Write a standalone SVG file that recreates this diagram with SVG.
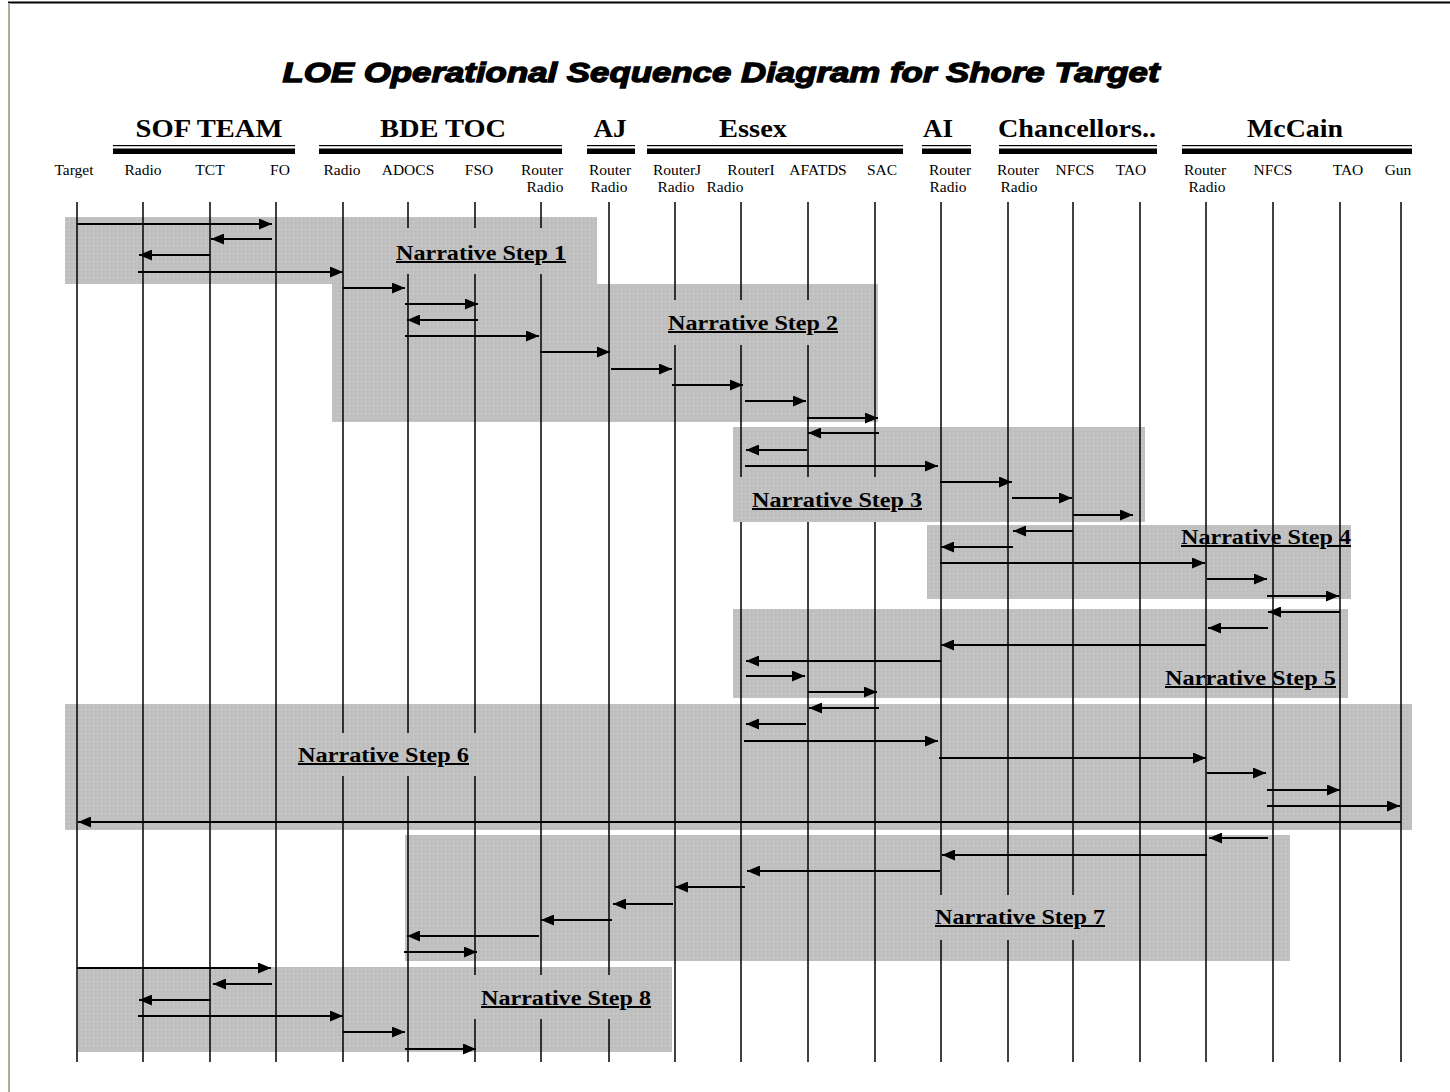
<svg xmlns="http://www.w3.org/2000/svg" width="1450" height="1092" viewBox="0 0 1450 1092">
<style>
.title{font-family:"Liberation Sans",Arial,sans-serif;font-weight:bold;font-style:italic;font-size:28px;fill:#000;stroke:#000;stroke-width:1.3px}
.grp{font-family:"Liberation Serif","Times New Roman",serif;font-weight:bold;font-size:25px;fill:#000;text-anchor:middle}
.col{font-family:"Liberation Serif","Times New Roman",serif;font-size:15.5px;fill:#000;text-anchor:middle}
.step{font-family:"Liberation Serif","Times New Roman",serif;font-weight:bold;font-size:20px;fill:#000;text-decoration:underline}
.life{stroke:#000;stroke-width:1.5}
.box{fill:url(#stip)}
.lbg{fill:url(#stip)}
.msg{stroke:#000;stroke-width:1.8;fill:none;marker-end:url(#ah)}
</style>
<defs>
<pattern id="stip" width="4" height="4" patternUnits="userSpaceOnUse">
<rect width="4" height="4" fill="#c0c0c0"/>
<rect x="1" y="1" width="1" height="1" fill="#cdcdcd"/>
<rect x="3" y="3" width="1" height="1" fill="#b9b9b9"/>
</pattern>
<marker id="ah" markerUnits="userSpaceOnUse" markerWidth="13" markerHeight="11" refX="13" refY="5.5" orient="auto">
<path d="M0,0 L13,5.5 L0,11 z" fill="#000"/>
</marker>
</defs>
<rect width="1450" height="1092" fill="#fff"/>
<!-- frame -->
<line x1="8" y1="2.5" x2="1450" y2="2.5" stroke="#000" stroke-width="2"/>
<line x1="9" y1="3" x2="9" y2="1092" stroke="#b3ab97" stroke-width="2"/>
<text class="title" x="721" y="82" textLength="877" lengthAdjust="spacingAndGlyphs" text-anchor="middle">LOE Operational Sequence Diagram for Shore Target</text>
<!-- step boxes -->
<g id="boxes">
<rect class="box" x="65" y="217" width="532" height="67"/>
<rect class="box" x="332" y="284" width="546" height="138"/>
<rect class="box" x="733" y="427" width="412" height="95"/>
<rect class="box" x="927" y="525" width="424" height="74"/>
<rect class="box" x="733" y="609" width="615" height="89"/>
<rect class="box" x="65" y="704" width="1347" height="126"/>
<rect class="box" x="405" y="835" width="885" height="126"/>
<rect class="box" x="78" y="967" width="594" height="85"/>
</g>
<!-- group headers -->
<g id="grp-sof"><text class="grp" x="209" y="137" textLength="147" lengthAdjust="spacingAndGlyphs">SOF TEAM</text><rect x="113" y="145" width="182" height="1.2"/><rect x="113" y="148.5" width="182" height="5.5"/></g>
<g id="grp-bde"><text class="grp" x="443" y="137" textLength="126" lengthAdjust="spacingAndGlyphs">BDE TOC</text><rect x="319" y="145" width="243" height="1.2"/><rect x="319" y="148.5" width="243" height="5.5"/></g>
<g id="grp-aj"><text class="grp" x="610" y="137" textLength="33" lengthAdjust="spacingAndGlyphs">AJ</text><rect x="587" y="145" width="48" height="1.2"/><rect x="587" y="148.5" width="48" height="5.5"/></g>
<g id="grp-essex"><text class="grp" x="753" y="137" textLength="68" lengthAdjust="spacingAndGlyphs">Essex</text><rect x="647" y="145" width="256" height="1.2"/><rect x="647" y="148.5" width="256" height="5.5"/></g>
<g id="grp-ai"><text class="grp" x="938" y="137" textLength="30" lengthAdjust="spacingAndGlyphs">AI</text><rect x="922" y="145" width="49" height="1.2"/><rect x="922" y="148.5" width="49" height="5.5"/></g>
<g id="grp-chan"><text class="grp" x="1077" y="137" textLength="158" lengthAdjust="spacingAndGlyphs">Chancellors..</text><rect x="999" y="145" width="158" height="1.2"/><rect x="999" y="148.5" width="158" height="5.5"/></g>
<g id="grp-mccain"><text class="grp" x="1295" y="137" textLength="96" lengthAdjust="spacingAndGlyphs">McCain</text><rect x="1182" y="145" width="230" height="1.2"/><rect x="1182" y="148.5" width="230" height="5.5"/></g>
<!-- participants -->
<g id="n-target"><text class="col" x="74" y="175">Target</text><line class="life" x1="77" y1="202" x2="77" y2="1062"/></g>
<g id="n-sof-radio"><text class="col" x="143" y="175">Radio</text><line class="life" x1="143" y1="202" x2="143" y2="1062"/></g>
<g id="n-tct"><text class="col" x="210" y="175">TCT</text><line class="life" x1="210" y1="202" x2="210" y2="1062"/></g>
<g id="n-fo"><text class="col" x="280" y="175">FO</text><line class="life" x1="276" y1="202" x2="276" y2="1062"/></g>
<g id="n-bde-radio"><text class="col" x="342" y="175">Radio</text><line class="life" x1="343" y1="202" x2="343" y2="1062"/></g>
<g id="n-adocs"><text class="col" x="408" y="175">ADOCS</text><line class="life" x1="408" y1="202" x2="408" y2="1062"/></g>
<g id="n-fso"><text class="col" x="479" y="175">FSO</text><line class="life" x1="475" y1="202" x2="475" y2="1062"/></g>
<g id="n-bde-router"><text class="col" x="542" y="175">Router</text><text class="col" x="545" y="192">Radio</text><line class="life" x1="541" y1="202" x2="541" y2="1062"/></g>
<g id="n-aj-router"><text class="col" x="610" y="175">Router</text><text class="col" x="609" y="192">Radio</text><line class="life" x1="609" y1="202" x2="609" y2="1062"/></g>
<g id="n-routerj"><text class="col" x="677" y="175">RouterJ</text><text class="col" x="676" y="192">Radio</text><line class="life" x1="675" y1="202" x2="675" y2="1062"/></g>
<g id="n-routeri"><text class="col" x="751" y="175">RouterI</text><text class="col" x="725" y="192" text-anchor="start">Radio</text><line class="life" x1="741" y1="202" x2="741" y2="1062"/></g>
<g id="n-afatds"><text class="col" x="818" y="175">AFATDS</text><line class="life" x1="808" y1="202" x2="808" y2="1062"/></g>
<g id="n-sac"><text class="col" x="882" y="175">SAC</text><line class="life" x1="875" y1="202" x2="875" y2="1062"/></g>
<g id="n-ai-router"><text class="col" x="950" y="175">Router</text><text class="col" x="948" y="192">Radio</text><line class="life" x1="941" y1="202" x2="941" y2="1062"/></g>
<g id="n-ch-router"><text class="col" x="1018" y="175">Router</text><text class="col" x="1019" y="192">Radio</text><line class="life" x1="1008" y1="202" x2="1008" y2="1062"/></g>
<g id="n-ch-nfcs"><text class="col" x="1075" y="175">NFCS</text><line class="life" x1="1073" y1="202" x2="1073" y2="1062"/></g>
<g id="n-ch-tao"><text class="col" x="1131" y="175">TAO</text><line class="life" x1="1140" y1="202" x2="1140" y2="1062"/></g>
<g id="n-mc-router"><text class="col" x="1205" y="175">Router</text><text class="col" x="1207" y="192">Radio</text><line class="life" x1="1206" y1="202" x2="1206" y2="1062"/></g>
<g id="n-mc-nfcs"><text class="col" x="1273" y="175">NFCS</text><line class="life" x1="1273" y1="202" x2="1273" y2="1062"/></g>
<g id="n-mc-tao"><text class="col" x="1348" y="175">TAO</text><line class="life" x1="1340" y1="202" x2="1340" y2="1062"/></g>
<g id="n-gun"><text class="col" x="1398" y="175">Gun</text><line class="life" x1="1401" y1="202" x2="1401" y2="1062"/></g>
<!-- step labels -->
<g id="steps">
<rect class="lbg" x="388" y="228" width="187" height="46"/>
<text class="step" x="396" y="260" textLength="170" lengthAdjust="spacingAndGlyphs">Narrative Step 1</text>
<rect class="lbg" x="660" y="300" width="185" height="45"/>
<text class="step" x="668" y="330" textLength="170" lengthAdjust="spacingAndGlyphs">Narrative Step 2</text>
<rect class="lbg" x="735" y="477" width="197" height="45"/>
<text class="step" x="752" y="507" textLength="170" lengthAdjust="spacingAndGlyphs">Narrative Step 3</text>
<text class="step" x="1181" y="544" textLength="170" lengthAdjust="spacingAndGlyphs">Narrative Step 4</text>
<text class="step" x="1165" y="685" textLength="171" lengthAdjust="spacingAndGlyphs">Narrative Step 5</text>
<rect class="lbg" x="290" y="733" width="192" height="43"/>
<text class="step" x="298" y="762" textLength="171" lengthAdjust="spacingAndGlyphs">Narrative Step 6</text>
<rect class="lbg" x="928" y="895" width="188" height="45"/>
<text class="step" x="935" y="924" textLength="170" lengthAdjust="spacingAndGlyphs">Narrative Step 7</text>
<rect class="lbg" x="468" y="975" width="194" height="44"/>
<text class="step" x="481" y="1005" textLength="170" lengthAdjust="spacingAndGlyphs">Narrative Step 8</text>
</g>
<!-- connectors -->
<g id="connectors">
<line class="msg" x1="77" y1="224" x2="272" y2="224"/>
<line class="msg" x1="272" y1="239" x2="211" y2="239"/>
<line class="msg" x1="210" y1="255" x2="139" y2="255"/>
<line class="msg" x1="138" y1="272" x2="343" y2="272"/>
<line class="msg" x1="343" y1="288" x2="405" y2="288"/>
<line class="msg" x1="405" y1="304" x2="478" y2="304"/>
<line class="msg" x1="478" y1="320" x2="407" y2="320"/>
<line class="msg" x1="405" y1="336" x2="539" y2="336"/>
<line class="msg" x1="540" y1="352" x2="610" y2="352"/>
<line class="msg" x1="611" y1="369" x2="672" y2="369"/>
<line class="msg" x1="672" y1="385" x2="743" y2="385"/>
<line class="msg" x1="745" y1="401" x2="806" y2="401"/>
<line class="msg" x1="807" y1="418" x2="878" y2="418"/>
<line class="msg" x1="879" y1="433" x2="808" y2="433"/>
<line class="msg" x1="807" y1="450" x2="746" y2="450"/>
<line class="msg" x1="745" y1="466" x2="938" y2="466"/>
<line class="msg" x1="940" y1="482" x2="1012" y2="482"/>
<line class="msg" x1="1012" y1="498" x2="1072" y2="498"/>
<line class="msg" x1="1073" y1="515" x2="1133" y2="515"/>
<line class="msg" x1="1073" y1="531" x2="1013" y2="531"/>
<line class="msg" x1="1013" y1="547" x2="941" y2="547"/>
<line class="msg" x1="940" y1="563" x2="1205" y2="563"/>
<line class="msg" x1="1207" y1="579" x2="1267" y2="579"/>
<line class="msg" x1="1267" y1="596" x2="1339" y2="596"/>
<line class="msg" x1="1340" y1="612" x2="1268" y2="612"/>
<line class="msg" x1="1268" y1="628" x2="1208" y2="628"/>
<line class="msg" x1="1206" y1="645" x2="941" y2="645"/>
<line class="msg" x1="941" y1="661" x2="746" y2="661"/>
<line class="msg" x1="746" y1="676" x2="805" y2="676"/>
<line class="msg" x1="808" y1="692" x2="877" y2="692"/>
<line class="msg" x1="879" y1="708" x2="809" y2="708"/>
<line class="msg" x1="806" y1="724" x2="746" y2="724"/>
<line class="msg" x1="744" y1="741" x2="938" y2="741"/>
<line class="msg" x1="939" y1="758" x2="1206" y2="758"/>
<line class="msg" x1="1207" y1="773" x2="1266" y2="773"/>
<line class="msg" x1="1267" y1="790" x2="1340" y2="790"/>
<line class="msg" x1="1267" y1="806" x2="1400" y2="806"/>
<line class="msg" x1="1401" y1="822" x2="78" y2="822"/>
<line class="msg" x1="1268" y1="838" x2="1209" y2="838"/>
<line class="msg" x1="1207" y1="855" x2="942" y2="855"/>
<line class="msg" x1="940" y1="871" x2="747" y2="871"/>
<line class="msg" x1="745" y1="887" x2="675" y2="887"/>
<line class="msg" x1="673" y1="904" x2="613" y2="904"/>
<line class="msg" x1="612" y1="920" x2="541" y2="920"/>
<line class="msg" x1="539" y1="936" x2="407" y2="936"/>
<line class="msg" x1="404" y1="952" x2="477" y2="952"/>
<line class="msg" x1="77" y1="968" x2="271" y2="968"/>
<line class="msg" x1="272" y1="984" x2="213" y2="984"/>
<line class="msg" x1="211" y1="1000" x2="139" y2="1000"/>
<line class="msg" x1="138" y1="1016" x2="343" y2="1016"/>
<line class="msg" x1="343" y1="1032" x2="405" y2="1032"/>
<line class="msg" x1="405" y1="1049" x2="476" y2="1049"/>
</g>
</svg>
